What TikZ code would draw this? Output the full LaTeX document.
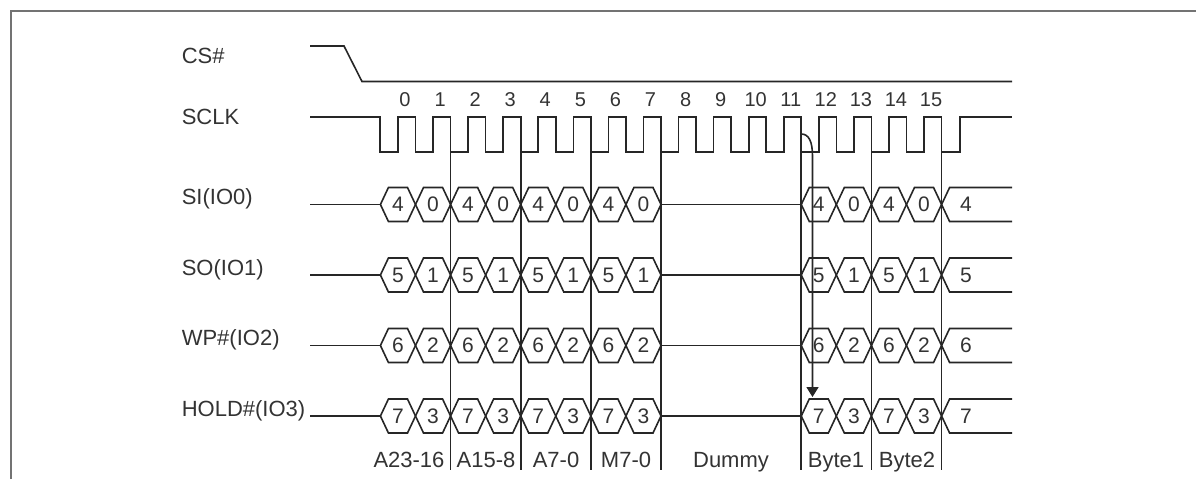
\documentclass[tikz,border=0pt]{standalone}
\usepackage{fontspec}
\setmainfont{Liberation Sans}
\usetikzlibrary{arrows.meta}

\begin{document}
\begin{tikzpicture}[x=0.5pt,y=-0.5pt,line width=0.8pt]
\tikzstyle{every node}+=[inner sep=0pt,text=black!80]
\tikzstyle{sig}=[black!85]
\tikzstyle{bit}=[font=\fontsize{10.5}{10.5}\selectfont]
\tikzstyle{tick}=[font=\fontsize{10}{10}\selectfont]
\tikzstyle{lbl}=[font=\fontsize{11}{11}\selectfont]
\useasboundingbox (0,0) rectangle (1196,479);
% frame
\draw [black!55,line width=1pt] (10.7,479) -- (10.7,10.7) -- (1196,10.7);
% signal names
\draw (181,63) node [lbl,anchor=base west] (cs) {CS\#};
\draw (181,124) node [lbl,anchor=base west] (sclk) {SCLK};
\draw (181,204.5) node [lbl,anchor=base west] (si) {SI(IO0)};
\draw (181,275) node [lbl,anchor=base west] (so) {SO(IO1)};
\draw (181,345.5) node [lbl,anchor=base west] (wp) {WP\#(IO2)};
\draw (181,416) node [lbl,anchor=base west] (hold) {HOLD\#(IO3)};
% chip select
\draw [sig] (310,46) -- (344,46) -- (362,81.5) -- (1012,81.5);
% clock
\draw [sig] (310,117) -- (380,117) -- (380,152)
  foreach \k in {0,...,15} { -- ({398+35.07*\k},152) -- ++(0,-35) -- ++(17.5,0) -- ++(0,35) }
  -- (960,152) -- (960,117) -- (1012,117);
\foreach \k in {0,...,15}
  \draw ({405+35.07*\k},100) node [tick] (n\k) {\k};
% byte boundaries
\foreach \k in {1,3,5,7,11,13,15}
  \draw [sig] ({415.5+35.07*\k},117) -- ({415.5+35.07*\k},470);
% data lines
\foreach \r/\y in {0/204.5,1/275,2/345.5,3/416} {
  \draw [sig] (310,\y) -- (380.4,\y);
  \draw [sig] (661,\y) -- (801.3,\y);
  \foreach \k in {0,1,2,3,4,5,6,7,12,13,14,15} {
    \pgfmathsetmacro\a{380.43+35.07*\k}
    \pgfmathtruncatemacro\d{\r+4*(1-mod(\k,2))}
    \draw [sig] (\a,\y) -- ++(8,-17) -- ++(19.07,0) -- ++(8,17) -- ++(-8,17) -- ++(-19.07,0) -- cycle;
    \draw ({\a+17.5},\y) node [bit] (c\r-\k) {\d};
  }
  \pgfmathtruncatemacro\e{\r+4}
  \draw [sig] (1012,{\y-17}) -- (949.6,{\y-17}) -- (941.6,\y) -- (949.6,{\y+17}) -- (1012,{\y+17});
  \draw (966,\y) node [bit] (c\r-16) {\e};
}
% clock 11 to first output byte
\coordinate (e11) at (801.3,134);
\coordinate (tip) at (812.5,397);
\draw [sig,-{Triangle[width=6pt,length=5pt]}] (e11) .. controls (809,134) and (812.5,142) .. (812.5,156) -- (tip);
% phases
\draw (409,467) node [lbl,anchor=base] (ph1) {A23-16};
\draw (486,467) node [lbl,anchor=base] (ph2) {A15-8};
\draw (556,467) node [lbl,anchor=base] (ph3) {A7-0};
\draw (626,467) node [lbl,anchor=base] (ph4) {M7-0};
\draw (731,467) node [lbl,anchor=base] (ph5) {Dummy};
\draw (836,467) node [lbl,anchor=base] (ph6) {Byte1};
\draw (907,467) node [lbl,anchor=base] (ph7) {Byte2};
\end{tikzpicture}
\end{document}
